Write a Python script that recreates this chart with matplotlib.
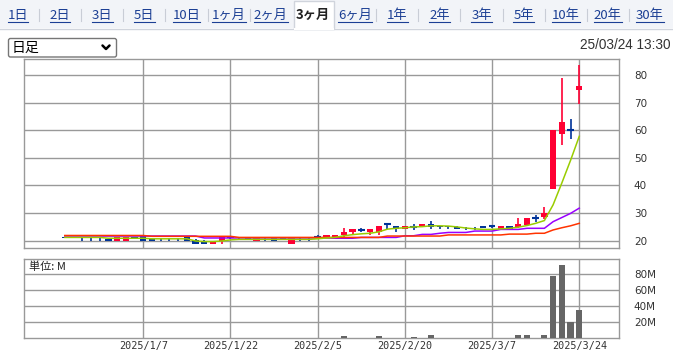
import numpy as np
import matplotlib
matplotlib.use('Agg')
import matplotlib.pyplot as plt
from matplotlib.patches import Rectangle, FancyBboxPatch

plt.rcParams['font.family'] = ['DejaVu Sans']

# trading days shown (3 months)
dates = ["2024/12/19", "2024/12/20", "2024/12/23", "2024/12/24", "2024/12/25", "2024/12/26", "2024/12/27", "2024/12/30", "2025/1/6", "2025/1/7",
         "2025/1/8", "2025/1/9", "2025/1/10", "2025/1/14", "2025/1/15", "2025/1/16", "2025/1/17", "2025/1/20", "2025/1/21", "2025/1/22",
         "2025/1/23", "2025/1/24", "2025/1/27", "2025/1/28", "2025/1/29", "2025/1/30", "2025/1/31", "2025/2/3", "2025/2/4", "2025/2/5",
         "2025/2/6", "2025/2/7", "2025/2/10", "2025/2/12", "2025/2/13", "2025/2/14", "2025/2/17", "2025/2/18", "2025/2/19", "2025/2/20",
         "2025/2/21", "2025/2/25", "2025/2/26", "2025/2/27", "2025/2/28", "2025/3/3", "2025/3/4", "2025/3/5", "2025/3/6", "2025/3/7",
         "2025/3/10", "2025/3/11", "2025/3/12", "2025/3/13", "2025/3/14", "2025/3/17", "2025/3/18", "2025/3/19", "2025/3/21", "2025/3/24"]

opens = [21.4, 21.3, 20.05, 20.05, 20.05, 20.5, 20.0, 20.0, 21.4, 21.6,
         20.5, 20.05, 20.05, 20.05, 21.2, 20.4, 20.0, 18.8, 19.9, 21.4,
         20.9, 20.85, 20.0, 20.9, 21.1, 21.1, 18.8, 20.9, 20.9, 21.2,
         21.2, 21.2, 22.1, 23.0, 24.0, 23.0, 23.0, 25.9, 25.4, 24.2,
         25.1, 25.1, 26.0, 25.2, 25.2, 25.1, 24.3, 24.3, 25.2, 25.3,
         24.1, 25.3, 24.8, 25.7, 28.1, 28.7, 38.9, 58.8, 60.0, 74.7]
highs = [21.5, 21.4, 21.1, 21.1, 21.1, 20.6, 21.5, 21.4, 21.5, 21.7,
         20.6, 21.0, 21.0, 21.0, 21.3, 20.5, 20.1, 20.0, 21.5, 21.5,
         21.0, 21.0, 21.0, 21.1, 21.2, 21.2, 21.0, 21.1, 21.1, 22.1,
         22.1, 22.1, 24.5, 24.2, 24.5, 24.3, 25.5, 26.0, 25.5, 25.5,
         26.0, 26.1, 27.2, 25.3, 25.3, 25.2, 25.1, 25.1, 25.3, 25.3,
         25.3, 25.4, 28.3, 28.4, 29.3, 32.3, 60.0, 79.0, 64.0, 83.8]
lows = [21.0, 21.0, 20.0, 20.0, 20.0, 20.0, 20.0, 20.0, 20.5, 20.0,
        19.9, 20.0, 20.0, 20.0, 20.0, 18.8, 18.7, 18.8, 18.9, 20.8,
        20.3, 20.3, 20.0, 20.0, 20.0, 20.4, 18.8, 20.0, 20.0, 20.9,
        21.2, 21.2, 21.2, 22.4, 23.2, 22.1, 21.9, 24.2, 23.0, 24.2,
        24.0, 25.0, 24.3, 24.1, 24.1, 24.1, 24.0, 24.0, 24.5, 24.5,
        24.0, 24.0, 24.5, 25.5, 26.9, 27.7, 38.9, 54.8, 56.7, 69.6]
closes = [21.0, 21.25, 20.0, 20.0, 20.0, 20.0, 21.4, 21.3, 20.9, 20.0,
          20.0, 20.0, 20.0, 20.0, 20.0, 18.8, 18.8, 19.9, 21.4, 20.9,
          20.85, 20.8, 20.9, 20.85, 20.0, 20.4, 20.9, 20.85, 20.85, 21.2,
          22.1, 22.0, 23.2, 24.2, 24.0, 24.2, 25.4, 25.9, 24.2, 25.4,
          25.1, 26.0, 25.1, 25.15, 25.15, 24.1, 24.1, 24.1, 24.5, 25.3,
          25.3, 24.1, 26.0, 28.3, 28.1, 30.1, 60.0, 62.9, 60.0, 76.0]

ma5 = [21.2] * 5 + [20.9] * 5 + [20.7] * 5 + [19.9, 19.7, 19.7, 19.9] + [20.3] + [20.5] * 9 + \
      [20.7, 21.0, 21.2, 21.8, 22.2, 22.5, 22.7, 23.2, 24.2, 24.5,
       24.7, 25.0, 25.1, 25.4, 25.4, 25.3, 25.0, 24.6, 24.3, 24.1,
       24.1, 24.3, 24.5, 24.9, 25.5, 26.3, 27.3, 33.0, 40.9, 49.1, 57.8]
ma25 = [21.7] * 16 + [21.0] * 15 + [20.9] * 3 + [21.2] * 5 + [21.8] * 2 + [22.3] * 2 + [22.7] + \
       [23.0] * 3 + [23.5] * 3 + [24.1] * 3 + [24.5] * 3 + [26.9, 28.4, 29.9, 31.8]
ma75 = [21.9] * 10 + [21.6] * 10 + [21.2] * 17 + [21.7] * 7 + [22.1] * 7 + [22.4] * 3 + [22.7] * 2 + \
       [23.9, 24.7, 25.4, 26.3]

# volume in millions of shares
volume = [1.0, 0.3, 0.3, 0.3, 0.3, 1.0, 0.3, 0.3, 0.3, 0.3,
          0.3, 0.3, 0.3, 0.3, 0.3, 1.0, 0.3, 0.3, 0.3, 0.3,
          0.3, 0.3, 0.3, 0.3, 0.3, 1.0, 0.3, 0.3, 0.3, 1.0,
          0.3, 0.3, 3.0, 0.3, 0.3, 0.3, 3.0, 0.3, 0.3, 0.3,
          1.5, 0.3, 4.0, 0.3, 0.3, 0.3, 0.3, 0.3, 0.3, 0.3,
          0.3, 0.3, 4.0, 4.0, 0.3, 4.0, 78.0, 91.6, 20.7, 35.4]

tick_dates = ["2025/1/7", "2025/1/22", "2025/2/5", "2025/2/20", "2025/3/7", "2025/3/24"]
price_ticks = [20, 30, 40, 50, 60, 70, 80]
vol_ticks = [20, 40, 60, 80]
tabs = ["1日", "2日", "3日", "5日", "10日", "1ヶ月", "2ヶ月", "3ヶ月", "6ヶ月",
        "1年", "2年", "3年", "5年", "10年", "20年", "30年"]

UP = '#ff0033'
DOWN = '#003399'
GRID = '#999999'
W, H = 673, 352

fig = plt.figure(figsize=(W / 100, H / 100), dpi=100)
fig.patch.set_facecolor('white')

# header / page decorations in pixel coordinates
bg = fig.add_axes([0, 0, 1, 1])
bg.set_xlim(0, W)
bg.set_ylim(H, 0)
bg.axis('off')
bg.add_patch(Rectangle((0, 0), W, 28, facecolor='#f2f4f8', edgecolor='none'))
bg.plot([0, W], [28.5, 28.5], color='#d0d4dc', lw=1)
bg.add_patch(Rectangle((294, 0.5), 40, 28.5, facecolor='white', edgecolor='#d0d4dc', lw=1))
bg.plot([294.6, 333.4], [28.5, 28.5], color='white', lw=1.5)

tab_x = np.linspace(18, 650, len(tabs))
tab_texts = []
for k, (lab, cx) in enumerate(zip(tabs, tab_x)):
    sel = lab == "3ヶ月"
    t = bg.text(cx, 15, lab, ha='center', va='center', fontsize=9.5,
                family=['Noto Sans CJK JP', 'DejaVu Sans'],
                color='#222222' if sel else '#1c3f94', weight='bold' if sel else 'normal')
    tab_texts.append((t, sel))
    if k < len(tabs) - 1:
        sx = (cx + tab_x[k + 1]) / 2
        if not sel and tabs[k + 1] != "3ヶ月":
            bg.plot([sx, sx], [9, 21], color='#c9cdd6', lw=0.8)

bg.add_patch(FancyBboxPatch((8.5, 38.5), 108, 18.5, boxstyle='round,pad=0,rounding_size=2',
                            facecolor='white', edgecolor='#767676', lw=1))
bg.text(12, 47.5, "日足", ha='left', va='center', fontsize=10,
        family=['Noto Sans CJK JP', 'DejaVu Sans'], color='black')
bg.plot([102.5, 106, 109.5], [45.5, 49, 45.5], color='black', lw=1.8, solid_capstyle='round')
bg.text(670, 45, "25/03/24 13:30", ha='right', va='center', fontsize=9.8,
        family='Liberation Sans', color='#333333')

x = np.arange(len(dates))
xl = (9 - 13.68, 9 + 54.5)
tick_pos = [dates.index(d) for d in tick_dates]

# price panel
ax = fig.add_axes([24 / W, 1 - 248.3 / H, (618.5 - 24) / W, (248.3 - 59) / H])
ax.set_xlim(*xl)
ax.set_ylim(17.26, 85.8)
for sp in ax.spines.values():
    sp.set_color(GRID)
    sp.set_linewidth(1)
ax.set_yticks(price_ticks)
ax.set_xticks(tick_pos)
ax.grid(True, color=GRID, lw=1)
ax.set_axisbelow(True)
ax.tick_params(length=0, labelbottom=False, labelleft=False, labelright=True,
               pad=11, labelsize=7.5, labelcolor='#333333')

for i in range(len(x)):
    o, h, l, c = opens[i], highs[i], lows[i], closes[i]
    col = UP if c > o else DOWN
    ax.vlines(x[i], l, h, color=col, lw=1.2, zorder=3)
    if c == o:
        ax.hlines(o, x[i] - 0.38, x[i] + 0.38, color=col, lw=1.5, zorder=3)
    else:
        ax.bar(x[i], abs(c - o), bottom=min(o, c), width=0.72, color=col, lw=0, zorder=3)

ax.plot(x, ma25, color='#9900ff', lw=1.1, zorder=4)
ax.plot(x, ma75, color='#ff3300', lw=1.1, zorder=4)
ax.plot(x, ma5, color='#99cc00', lw=1.1, zorder=4)

# volume panel
av = fig.add_axes([24 / W, 1 - 338.3 / H, (618.5 - 24) / W, (338.3 - 259.3) / H])
av.set_xlim(*xl)
av.set_ylim(0, 98.75)
for sp in av.spines.values():
    sp.set_color(GRID)
    sp.set_linewidth(1)
av.set_yticks(vol_ticks)
av.set_yticklabels([f"{v}M" for v in vol_ticks])
av.set_xticks(tick_pos)
av.set_xticklabels(tick_dates, family='DejaVu Sans Mono', fontsize=7.3, color='#333333')
av.grid(True, color=GRID, lw=1)
av.set_axisbelow(True)
av.tick_params(axis='y', length=0, labelleft=False, labelright=True, pad=11,
               labelsize=7.5, labelcolor='#333333')
av.tick_params(axis='x', length=0, pad=2)
av.bar(x, volume, width=0.7, color='#666666', lw=0, zorder=3)
av.text(0.008, 0.97, "単位: M", transform=av.transAxes, ha='left', va='top', fontsize=8,
        family=['Noto Sans CJK JP', 'DejaVu Sans'], color='#222222')

# underline tab links
fig.canvas.draw()
r = fig.canvas.get_renderer()
inv = bg.transData.inverted()
for t, sel in tab_texts:
    if sel:
        continue
    bb = t.get_window_extent(r)
    (x0, y0), (x1, y1) = inv.transform([(bb.x0, bb.y0), (bb.x1, bb.y1)])
    bg.plot([x0, x1], [21.5, 21.5], color='#1c3f94', lw=0.8)

fig.savefig('out.png', dpi=100)
